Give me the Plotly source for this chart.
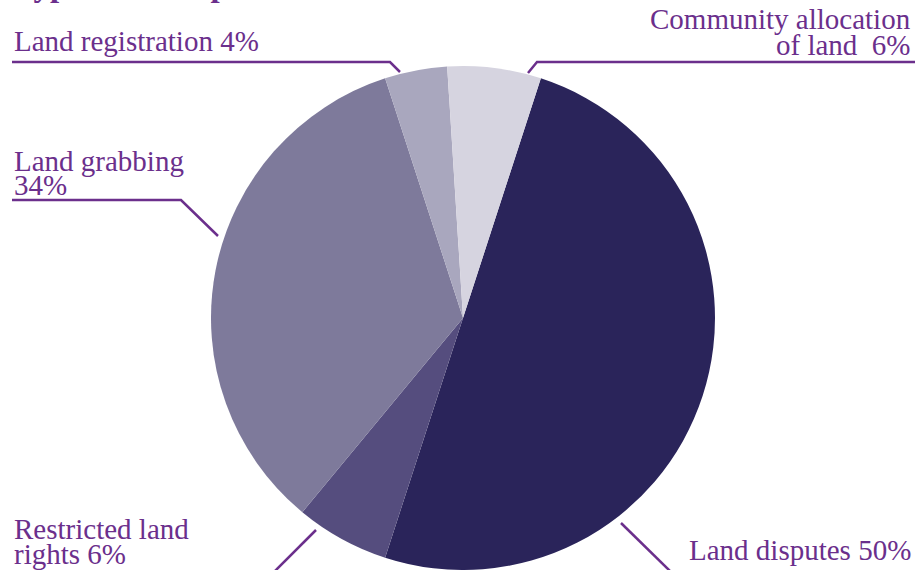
import plotly.graph_objects as go

W, H = 920, 570

# slice data, clockwise from the Land disputes slice
labels = [
    "Land disputes",
    "Restricted land rights",
    "Land grabbing",
    "Land registration",
    "Community allocation of land",
]
values = [50, 6, 34, 4, 6]
slice_colors = ["#2a245a", "#554d7e", "#7e7a9b", "#a9a7be", "#d6d4e0"]

TITLE = "Types of land problems"
PURPLE = "#6b2f8c"
FONT = "Liberation Serif"
FS = 29


def px(x):
    return x / W


def py(y):
    return 1 - y / H


# pie geometry in pixels
cx, cy, r = 463, 318, 252

fig = go.Figure()

fig.add_trace(
    go.Pie(
        labels=labels,
        values=values,
        sort=False,
        direction="clockwise",
        rotation=18,
        marker=dict(colors=slice_colors, line=dict(width=0)),
        textinfo="none",
        hoverinfo="label+percent",
        domain=dict(x=[px(cx - r), px(cx + r)], y=[py(cy + r), py(cy - r)]),
        showlegend=False,
    )
)

# label lines: (text, x, baseline y, anchor)
label_lines = [
    ("Land registration 4%", 12, 52, "left"),
    ("Community allocation", 913, 30, "right"),
    ("of land  6%", 913, 56, "right"),
    ("Land grabbing", 12, 172, "left"),
    ("34%", 12, 196, "left"),
    ("Restricted land", 12, 540, "left"),
    ("rights 6%", 12, 565, "left"),
    ("Land disputes 50%", 913, 561, "right"),
]

annotations = []
for text, x, base, anchor in label_lines:
    annotations.append(
        dict(
            text=text,
            x=px(x),
            y=py(base + 0.216 * FS + 1),
            xref="paper",
            yref="paper",
            xanchor=anchor,
            yanchor="bottom",
            showarrow=False,
            font=dict(family=FONT, size=FS, color=PURPLE),
        )
    )

# title, mostly cropped off at the top
annotations.append(
    dict(
        text="<b>" + TITLE + "</b>",
        x=px(12),
        y=py(-3 + 0.216 * 33 + 1),
        xref="paper",
        yref="paper",
        xanchor="left",
        yanchor="bottom",
        showarrow=False,
        font=dict(family=FONT, size=33, color=PURPLE),
    )
)

# leader lines (pixel paths)
leaders = [
    [(12, 62), (390, 62), (400, 72)],
    [(528, 73), (537, 62), (915, 62)],
    [(12, 200), (181, 200), (218, 236)],
    [(316, 530), (275, 571)],
    [(621, 523), (670, 571)],
]

shapes = []
for pts in leaders:
    path = "M " + " L ".join(f"{px(x)},{py(y)}" for x, y in pts)
    shapes.append(
        dict(
            type="path",
            path=path,
            xref="paper",
            yref="paper",
            line=dict(color=PURPLE, width=2.5),
        )
    )

fig.update_layout(
    width=W,
    height=H,
    margin=dict(l=0, r=0, t=0, b=0),
    paper_bgcolor="white",
    plot_bgcolor="white",
    annotations=annotations,
    shapes=shapes,
)

# drop the browser's default body margin so the figure sits at the page corner
fig.write_html(
    "out.html",
    config={"displayModeBar": False},
    post_script="document.body.style.margin='0';document.body.style.overflow='hidden';",
)
